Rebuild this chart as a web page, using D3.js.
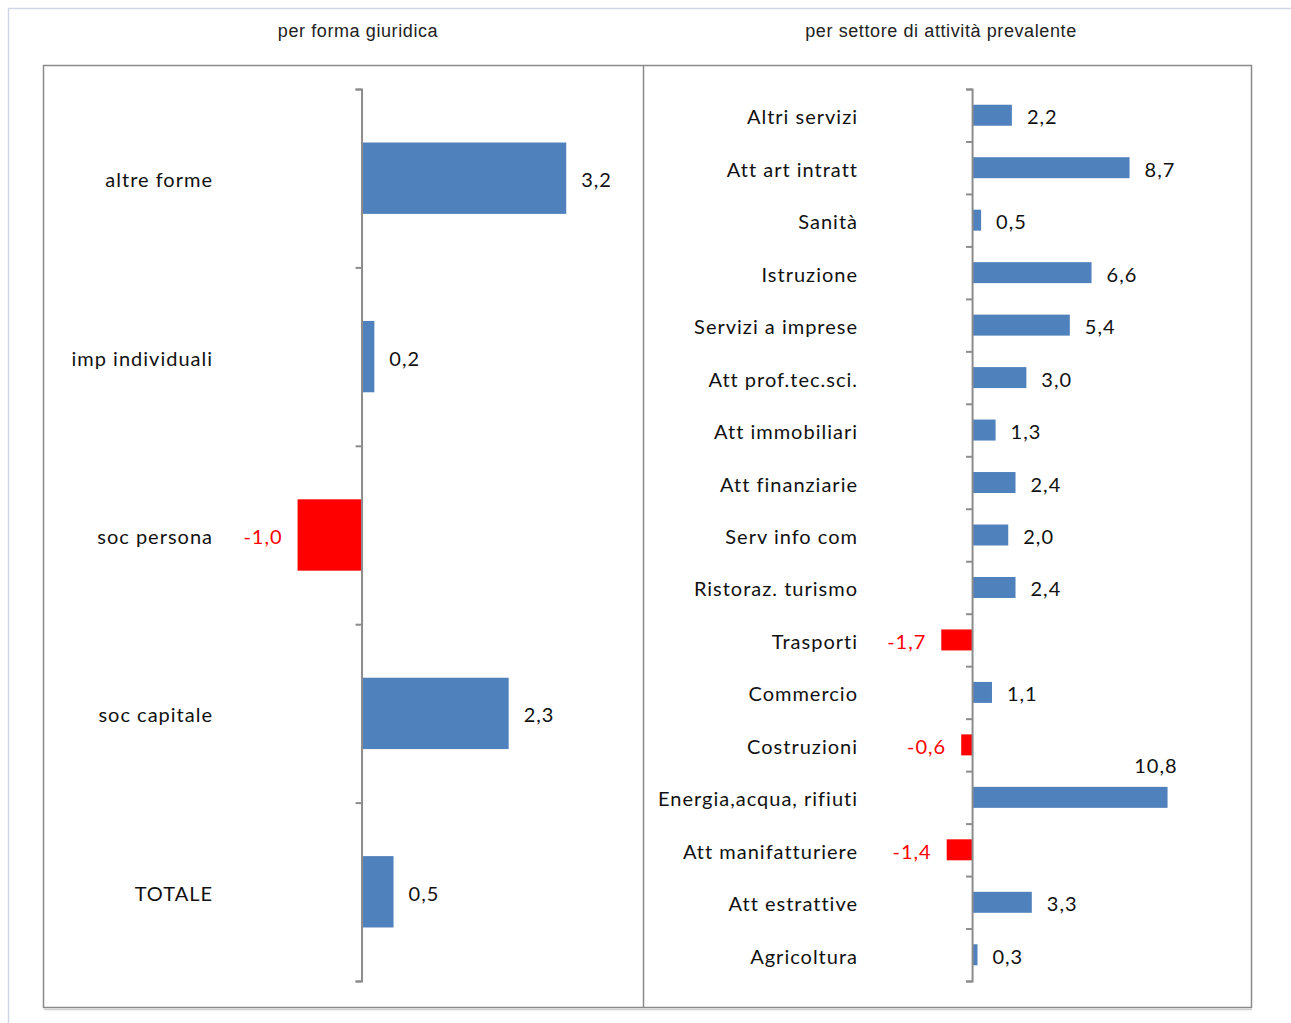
<!DOCTYPE html>
<html lang="it">
<head>
<meta charset="UTF-8">
<title>Variazione imprese</title>
<script src="https://d3js.org/d3.v7.min.js"></script>
<style>
  body { margin: 0; background: #fff; }
  text { font-family: Lato, "Open Sans", sans-serif; }
</style>
</head>
<body>
<script>
// data, top to bottom
const formaCats = ['altre forme', 'imp individuali', 'soc persona', 'soc capitale', 'TOTALE'];
const formaVals = [3.2, 0.2, -1.0, 2.3, 0.5];

const settoreCats = ['Altri servizi', 'Att art intratt', 'Sanità', 'Istruzione', 'Servizi a imprese',
  'Att prof.tec.sci.', 'Att immobiliari', 'Att finanziarie', 'Serv info com', 'Ristoraz. turismo',
  'Trasporti', 'Commercio', 'Costruzioni', 'Energia,acqua, rifiuti', 'Att manifatturiere',
  'Att estrattive', 'Agricoltura'];
const settoreVals = [2.2, 8.7, 0.5, 6.6, 5.4, 3.0, 1.3, 2.4, 2.0, 2.4, -1.7, 1.1, -0.6, 10.8, -1.4, 3.3, 0.3];

const titles = ['per forma giuridica', 'per settore di attività prevalente'];

const W = 1291, H = 1023;
const svg = d3.select('body').append('svg').attr('width', W).attr('height', H);

// outer light frame
svg.append('path').attr('d', `M8.5,${H} V8.5 H${W}`)
  .attr('fill', 'none').attr('stroke', '#cfd6e6').attr('stroke-width', 1.5);

// inner frame + divider
svg.append('rect').attr('x', 43.5).attr('y', 65.5).attr('width', 1208).attr('height', 942)
  .attr('fill', 'none').attr('stroke', '#8a8a8a').attr('stroke-width', 1.5);
svg.append('line').attr('x1', 643.5).attr('x2', 643.5).attr('y1', 65).attr('y2', 1008)
  .attr('stroke', '#8a8a8a').attr('stroke-width', 1.5);
svg.append('line').attr('x1', 44).attr('x2', 1252).attr('y1', 1009.5).attr('y2', 1009.5)
  .attr('stroke', '#cfcfcf').attr('stroke-width', 1.5);

const fmt = v => d3.format('.1f')(v).replace('.', ',').replace('−', '-');

function panel(cats, vals, opt) {
  const x = d3.scaleLinear().domain(opt.domain).range([opt.x0, opt.x1]);
  const y = d3.scaleBand().domain(cats).range([89, 981]).paddingInner(0.6).paddingOuter(0.3);
  const g = svg.append('g');

  g.append('text').attr('x', opt.titleX).attr('y', 37).attr('text-anchor', 'middle')
    .style('font-family', 'Liberation Sans, Arial, sans-serif').style('letter-spacing', '0.6px')
    .attr('font-size', 18).attr('fill', '#222').text(opt.title);

  g.selectAll('rect.bar').data(cats).join('rect').attr('class', 'bar')
    .attr('x', (d, i) => x(Math.min(0, vals[i])))
    .attr('width', (d, i) => Math.abs(x(vals[i]) - x(0)))
    .attr('y', d => y(d)).attr('height', y.bandwidth())
    .attr('fill', (d, i) => vals[i] < 0 ? '#ff0000' : '#4f81bd');

  // category boundary ticks
  const yb = d3.scaleLinear().domain([0, cats.length]).range([89, 981]);
  g.append('g').attr('transform', `translate(${x(0)},0)`)
    .call(d3.axisLeft(yb).tickValues(d3.range(cats.length + 1))
      .tickSize(6).tickSizeOuter(6).tickFormat(''))
    .call(a => a.selectAll('path, line').attr('stroke', '#8c8c8c').attr('stroke-width', 2));

  g.selectAll('text.cat').data(cats).join('text').attr('class', 'cat')
    .attr('x', opt.labelX).attr('y', d => y(d) + y.bandwidth() / 2 + 2).attr('dy', '0.35em')
    .style('letter-spacing', '1px')
    .attr('text-anchor', 'end').attr('font-size', 20).attr('fill', '#111').text(d => d);

  g.selectAll('text.val').data(cats).join('text').attr('class', 'val')
    .style('letter-spacing', '1px')
    .each(function (d, i) {
      const v = vals[i];
      const t = d3.select(this).attr('font-size', 20).text(fmt(v));
      const yc = y(d) + y.bandwidth() / 2 + 2;
      if (v < 0) {
        t.attr('x', x(v) - 15).attr('y', yc).attr('dy', '0.35em')
          .attr('text-anchor', 'end').attr('fill', '#ff0000');
      } else if (v >= opt.aboveMin) {
        // long bar: label sits above the bar end
        t.attr('x', x(v) + 10).attr('y', y(d) - 14).attr('text-anchor', 'end').attr('fill', '#111');
      } else {
        t.attr('x', x(v) + 15).attr('y', yc).attr('dy', '0.35em')
          .attr('text-anchor', 'start').attr('fill', '#111');
      }
    });
}

panel(formaCats, formaVals, {
  domain: [-4.98, 4.4], x0: 43, x1: 643, labelX: 213, titleX: 358, title: titles[0], aboveMin: Infinity
});
panel(settoreCats, settoreVals, {
  domain: [-18.18, 15.41], x0: 643, x1: 1251, labelX: 858, titleX: 941, title: titles[1], aboveMin: 10
});
</script>
</body>
</html>
